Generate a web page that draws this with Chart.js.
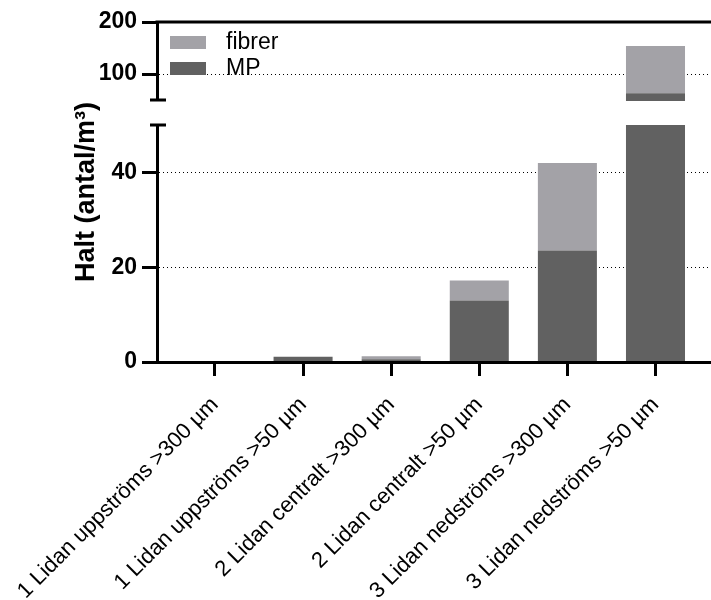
<!DOCTYPE html>
<html><head><meta charset="utf-8">
<script src="https://cdn.jsdelivr.net/npm/chart.js@4/dist/chart.umd.min.js"></script>
<style>html,body{margin:0;padding:0;background:#fff}</style>
</head><body>
<canvas id="c" width="711" height="600"></canvas>
<script>
// ---- data ----
const categories = [
  '1 Lidan uppströms >300 µm',
  '1 Lidan uppströms >50 µm',
  '2 Lidan centralt >300 µm',
  '2 Lidan centralt >50 µm',
  '3 Lidan nedströms >300 µm',
  '3 Lidan nedströms >50 µm'
];
const mpValues     = [0, 1.1, 0.6, 13.0, 23.5, 63];
const fibrerValues = [0, 0,   0.6, 4.2,  18.5, 91];
const seriesLabels = ['MP', 'fibrer'];
const yTickValues = [0, 20, 40, 100, 200];
const yGridValues = [20, 40, 100];
const yAxisTitle = 'Halt (antal/m³)';
const BREAK_LOW = 50;   // top of lower segment
const BREAK_HIGH = 50;  // bottom of upper segment

// ---- style ----
const MP_COLOR = '#616161';
const FIB_COLOR = '#a3a2a7';
const FONT = '"Liberation Sans", Arial, Helvetica, sans-serif';
const LOW_FRAC = 237 / 340;   // share of plot height for the lower segment
const HIGH_FRAC = 78 / 340;   // share for the upper segment

class BrokenLinearScale extends Chart.LinearScale {
  _segs() {
    const h = this.bottom - this.top;
    return { lowTop: this.bottom - h * LOW_FRAC, highBottom: this.top + h * HIGH_FRAC };
  }
  getPixelForValue(value) {
    if (value === null || value === undefined || isNaN(value)) return NaN;
    const s = this._segs();
    if (value <= BREAK_LOW) {
      return this.bottom - (value - this.min) / (BREAK_LOW - this.min) * (this.bottom - s.lowTop);
    }
    return s.highBottom - (value - BREAK_HIGH) / (this.max - BREAK_HIGH) * (s.highBottom - this.top);
  }
  getValueForPixel(pixel) {
    const s = this._segs();
    if (pixel >= s.lowTop) return this.min + (this.bottom - pixel) / (this.bottom - s.lowTop) * (BREAK_LOW - this.min);
    return BREAK_HIGH + (s.highBottom - pixel) / (s.highBottom - this.top) * (this.max - BREAK_HIGH);
  }
}
BrokenLinearScale.id = 'brokenLinear';
BrokenLinearScale.defaults = Chart.LinearScale.defaults;
Chart.register(BrokenLinearScale);

const brokenAxisPlugin = {
  id: 'brokenAxis',
  afterDraw(chart) {
    const y = chart.scales.y, ctx = chart.ctx, area = chart.chartArea;
    const s = y._segs();
    const ax = y.right;
    ctx.save();
    // gap
    ctx.fillStyle = '#fff';
    ctx.fillRect(ax - 3, s.highBottom + 1, area.right - ax + 3, s.lowTop - s.highBottom - 1);
    ctx.strokeStyle = '#000';
    ctx.lineWidth = 3;
    ctx.beginPath();
    ctx.moveTo(ax - 7, s.highBottom); ctx.lineTo(ax + 9, s.highBottom);
    ctx.moveTo(ax - 7, s.lowTop); ctx.lineTo(ax + 9, s.lowTop);
    // top frame line
    ctx.moveTo(ax - 1.5, area.top); ctx.lineTo(area.right, area.top);
    ctx.stroke();
    // legend
    const items = chart.data.datasets.slice().reverse();
    ctx.font = '23px ' + FONT;
    ctx.textBaseline = 'middle';
    ctx.textAlign = 'left';
    items.forEach((ds, k) => {
      const bx = area.left + 13, by = area.top + 14 + k * 26;
      ctx.fillStyle = ds.backgroundColor;
      ctx.fillRect(bx, by, 36, 13);
      ctx.fillStyle = '#000';
      ctx.fillText(ds.label, bx + 56, by + 7);
    });
    ctx.restore();
  }
};

new Chart(document.getElementById('c'), {
  type: 'bar',
  data: {
    datasets: [
      { label: seriesLabels[0], data: categories.map((c, i) => ({ x: i, y: mpValues[i] })), backgroundColor: MP_COLOR },
      { label: seriesLabels[1], data: categories.map((c, i) => ({ x: i, y: fibrerValues[i] })), backgroundColor: FIB_COLOR }
    ]
  },
  options: {
    responsive: false,
    animation: false,
    layout: { padding: { top: 22, right: 0, left: 0, bottom: 0 } },
    plugins: { legend: { display: false }, tooltip: { enabled: false } },
    datasets: { bar: { categoryPercentage: 1, barPercentage: 0.67, borderWidth: 0 } },
    scales: {
      x: {
        type: 'linear', min: -0.658, max: 5.63, offset: false, stacked: true,
        afterBuildTicks: s => { s.ticks = categories.map((c, i) => ({ value: i })); },
        afterFit: s => { s.height = 238; s.paddingLeft = 0; s.paddingRight = 0; },
        grid: { offset: false, drawOnChartArea: false, color: '#000', tickLength: 14, tickColor: '#000', tickWidth: 3 },
        border: { display: true, color: '#000', width: 3, z: 1 },
        ticks: {
          autoSkip: false, minRotation: 45, maxRotation: 45, padding: 16, color: '#000',
          font: { family: FONT, size: 22 },
          callback: v => categories[v]
        }
      },
      y: {
        type: 'brokenLinear', min: 0, max: 200, stacked: true,
        afterBuildTicks: s => { s.ticks = yTickValues.map(v => ({ value: v })); },
        afterFit: s => { s.width = 157; s.paddingTop = 0; s.paddingBottom = 0; },
        grid: {
          color: c => (c.tick && yGridValues.includes(c.tick.value)) ? '#000' : 'rgba(0,0,0,0)',
          lineWidth: 1, tickLength: 15, tickColor: '#000', tickWidth: 3
        },
        border: { display: true, color: '#000', width: 3, dash: [1, 3] },
        ticks: {
          padding: 5, color: '#000', font: { family: FONT, size: 23, weight: 'bold' },
          callback: v => String(v)
        },
        title: {
          display: true, text: yAxisTitle, color: '#000',
          font: { family: FONT, size: 27, weight: 'bold' },
          padding: { top: 70, bottom: 0 }
        }
      }
    }
  },
  plugins: [brokenAxisPlugin]
});
</script>
</body></html>
